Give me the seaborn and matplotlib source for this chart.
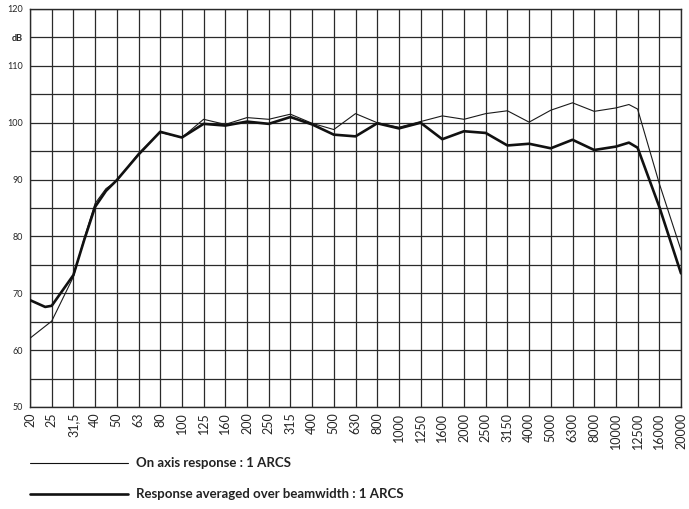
#!/usr/bin/env python3
"""Frequency response of 1 ARCS: on-axis vs beamwidth-averaged."""

import matplotlib.pyplot as plt
from matplotlib.lines import Line2D
import pandas as pd
import seaborn as sns

# third-octave bands, shown as evenly spaced categories
FREQ_LABELS = ["20", "25", "31,5", "40", "50", "63", "80", "100", "125", "160",
               "200", "250", "315", "400", "500", "630", "800", "1000", "1250",
               "1600", "2000", "2500", "3150", "4000", "5000", "6300", "8000",
               "10000", "12500", "16000", "20000"]

# band index of every reading (a few extra readings between bands
# where the curves bend)
BAND_POS = [0, 0.7, 1, 2, 2.5, 3, 3.5, 4, 5, 6, 7, 8, 9, 10, 11, 12, 13,
            14, 15, 16, 17, 18, 19, 20, 21, 22, 23, 24, 25, 26, 27, 27.6,
            28, 29, 30]

# dB values
ON_AXIS = [62.1, 64.2, 65.1, 72.9, 79.7, 85.8, 88.4, 89.8, 94.6, 98.3,
           97.4, 100.6, 99.7, 100.9, 100.6, 101.5, 99.9, 98.8, 101.6,
           100.0, 99.2, 100.2, 101.2, 100.6, 101.6, 102.1, 100.1, 102.2,
           103.5, 102.0, 102.6, 103.2, 102.4, 89.3, 77.6]
AVERAGED = [68.8, 67.6, 67.8, 73.2, 79.4, 85.2, 88.0, 89.9, 94.4, 98.4,
            97.4, 99.8, 99.5, 100.2, 99.8, 101.0, 99.7, 97.9, 97.6, 99.9,
            99.0, 100.0, 97.1, 98.5, 98.2, 96.0, 96.3, 95.5, 97.0, 95.2,
            95.8, 96.5, 95.6, 85.2, 73.5]

Y_TICKS = [50, 60, 70, 80, 90, 100, 110, 120]

FONT = ["Lato", "DejaVu Sans"]


def main():
    sns.set_style("white")
    plt.rcParams["font.family"] = FONT

    df = pd.DataFrame({
        "band": BAND_POS * 2,
        "dB": ON_AXIS + AVERAGED,
        "curve": ["on"] * len(ON_AXIS) + ["avg"] * len(AVERAGED),
    })

    fig = plt.figure(figsize=(6.89, 5.09), dpi=100)
    ax = fig.add_axes([30 / 689, 1 - 407 / 509, 651 / 689, 398 / 509])

    grid_c = "#2a2a2a"
    for v in range(50, 121, 5):
        ax.axhline(v, color=grid_c, lw=0.9, zorder=0)
    for i in range(len(FREQ_LABELS)):
        ax.axvline(i, color=grid_c, lw=0.9, zorder=0)

    sns.lineplot(data=df[df.curve == "on"], x="band", y="dB",
                 color="#1a1a1a", lw=0.8, ax=ax, zorder=3)
    sns.lineplot(data=df[df.curve == "avg"], x="band", y="dB",
                 color="#111111", lw=1.9, ax=ax, zorder=4)

    ax.set_xlim(0, len(FREQ_LABELS) - 1)
    ax.set_ylim(50, 120)
    ax.set_xticks(range(len(FREQ_LABELS)))
    ax.set_xticklabels(FREQ_LABELS, rotation=90, fontsize=9)
    ax.set_yticks(Y_TICKS + [115])
    ax.set_yticklabels([str(t) for t in Y_TICKS] + ["dB"], fontsize=6.5)
    for lbl in ax.get_yticklabels():
        if lbl.get_text() == "dB":
            lbl.set_fontweight("bold")
    ax.tick_params(axis="y", length=3, width=0.9, pad=2, color=grid_c)
    ax.tick_params(axis="x", length=0, pad=4)
    ax.set_xlabel("")
    ax.set_ylabel("")
    for s in ax.spines.values():
        s.set_color(grid_c)
        s.set_linewidth(1.0)

    # legend drawn under the plot
    for y_px, lw, text in [(463, 0.8, "On axis response : 1 ARCS"),
                           (494, 1.9, "Response averaged over beamwidth : 1 ARCS")]:
        yf = 1 - y_px / 509
        fig.add_artist(Line2D([30 / 689, 128 / 689], [yf, yf],
                              color="#111111", lw=lw))
        fig.text(136 / 689, yf, text, fontsize=9.5, fontweight="bold",
                 va="center", ha="left", color="#222222")

    fig.savefig("out.png", dpi=100)
    plt.close(fig)


if __name__ == "__main__":
    main()
